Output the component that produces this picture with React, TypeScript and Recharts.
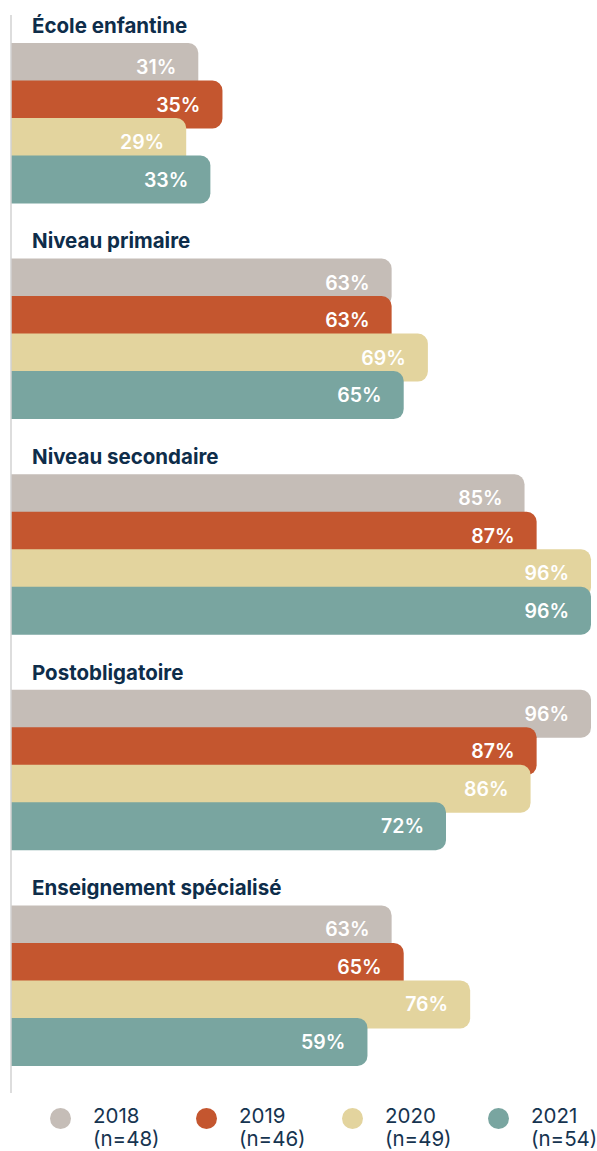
import React from 'react';
import { BarChart, Bar, XAxis, YAxis, LabelList, Legend } from 'recharts';

const categories = ['École enfantine', 'Niveau primaire', 'Niveau secondaire', 'Postobligatoire', 'Enseignement spécialisé'];
const values2018 = [31, 63, 85, 96, 63];
const values2019 = [35, 63, 87, 87, 65];
const values2020 = [29, 69, 96, 86, 76];
const values2021 = [33, 65, 96, 72, 59];
const years = ['2018', '2019', '2020', '2021'];
const sampleSizes = ['(n=48)', '(n=46)', '(n=49)', '(n=54)'];
const colors = ['#c5bdb7', '#c4562f', '#e3d49e', '#79a5a0'];

const data = categories.map((name, i) => ({
  name,
  y2018: values2018[i],
  y2019: values2019[i],
  y2020: values2020[i],
  y2021: values2021[i],
}));

const FONT = 'Inter, "Noto Sans", sans-serif';
const NAVY = '#0e2d4a';

const renderTick = (props: any) => {
  const { y, payload } = props;
  return (
    <text x={32} y={y - 90} fill={NAVY} fontFamily={FONT} fontWeight={700} fontSize={20.5}>
      {payload.value}
    </text>
  );
};

const renderLabel = (props: any) => {
  const { x, y, width, height, value } = props;
  return (
    <text
      x={x + width - 22}
      y={y + height / 2}
      dy="0.36em"
      textAnchor="end"
      fill="#ffffff"
      fontFamily={FONT}
      fontWeight={600}
      fontSize={19.5}
    >
      {value}%
    </text>
  );
};

const renderLegend = () => (
  <div style={{ display: 'flex', paddingLeft: 49.5, fontFamily: FONT, color: '#163450', fontSize: 20.5, lineHeight: '23px' }}>
    {years.map((yr, i) => (
      <div key={yr} style={{ width: 146, display: 'flex', alignItems: 'flex-start', flex: 'none' }}>
        <span
          style={{
            display: 'inline-block',
            width: 21,
            height: 21,
            borderRadius: 10.5,
            background: colors[i],
            marginTop: 3.5,
            marginRight: 22.5,
            flex: 'none',
          }}
        />
        <div style={{ textAlign: 'left', whiteSpace: 'nowrap' }}>
          <div>{yr}</div>
          <div>{sampleSizes[i]}</div>
        </div>
      </div>
    ))}
  </div>
);

export default function App() {
  const keys = ['y2018', 'y2019', 'y2020', 'y2021'];
  return (
    <div style={{ position: 'absolute', left: 0, top: 0, width: 597, height: 1151, background: '#fff', overflow: 'hidden' }}>
      <BarChart
        width={597}
        height={1151}
        data={data}
        layout="vertical"
        margin={{ top: 15, right: 6, bottom: 58, left: 10 }}
        barSize={48}
        barGap={-10.5}
      >
        <XAxis type="number" domain={[0, 96]} hide />
        <YAxis
          type="category"
          dataKey="name"
          width={1}
          axisLine={{ stroke: '#d2d2d2', strokeWidth: 1.5 }}
          tickLine={false}
          tick={renderTick}
          interval={0}
        />
        <Legend
          verticalAlign="middle"
          layout="horizontal"
          content={renderLegend}
          wrapperStyle={{ position: 'absolute', top: 1104, left: 0, width: 597 }}
        />
        {keys.map((k, i) => (
          <Bar key={k} dataKey={k} name={years[i]} fill={colors[i]} radius={[0, 10, 10, 0]} isAnimationActive={false}>
            <LabelList dataKey={k} content={renderLabel} />
          </Bar>
        ))}
      </BarChart>
    </div>
  );
}
